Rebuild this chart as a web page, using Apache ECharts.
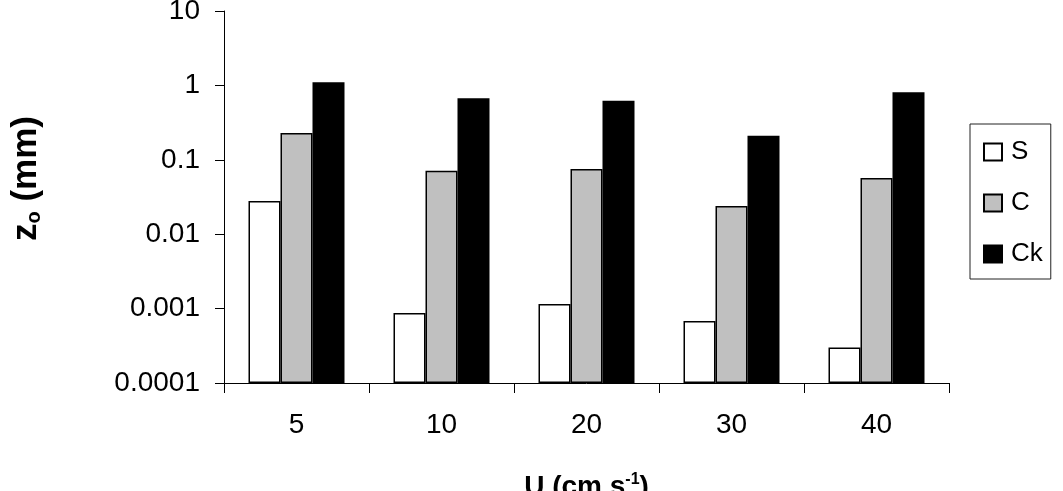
<!DOCTYPE html>
<html>
<head>
<meta charset="utf-8">
<script src="https://cdn.jsdelivr.net/npm/echarts@6/dist/echarts.min.js"></script>
<style>
  html, body { margin: 0; padding: 0; background: #fff; }
  #chart { width: 1063px; height: 491px; }
</style>
</head>
<body>
<div id="chart"></div>
<script>
// flow speeds U (cm s-1)
var categories = ["5", "10", "20", "30", "40"];
// roughness length z0 (mm), read off the log scale
var sData = [0.028, 0.00087, 0.00115, 0.00068, 0.0003];
var cData = [0.23, 0.071, 0.075, 0.024, 0.057];
var ckData = [1.1, 0.67, 0.62, 0.21, 0.81];
var yTickLabels = ["0.0001", "0.001", "0.01", "0.1", "1", "10"];

var font = "Liberation Sans, Arial, sans-serif";
var chart = echarts.init(document.getElementById("chart"));

var option = {
  backgroundColor: "#fff",
  animation: false,
  textStyle: { fontFamily: font },
  grid: { left: 224, right: 114, top: 11, bottom: 108, containLabel: false, outerBoundsMode: "none" },
  legend: {
    orient: "vertical",
    left: 970,
    top: 124,
    padding: [15, 8, 12, 13],
    borderColor: "#222",
    borderWidth: 1,
    itemWidth: 18,
    itemHeight: 17,
    itemGap: 25,
    icon: "rect",
    textStyle: { fontSize: 26, lineHeight: 24, color: "#000", fontFamily: font, padding: [0, 0, 0, 4] },
    data: ["S", "C", "Ck"]
  },
  xAxis: {
    type: "category",
    data: categories,
    name: "{a|U (cm s}{sup|-1}{a|)}",
    nameLocation: "middle",
    nameGap: 89,
    nameTextStyle: {
      rich: {
        a: { fontSize: 28, fontWeight: "bold", color: "#000", fontFamily: font },
        sup: { fontSize: 16, fontWeight: "bold", color: "#000", fontFamily: font, padding: [0, 0, 14, 0] }
      }
    },
    axisLine: { lineStyle: { color: "#000", width: 1 } },
    axisTick: { show: true, length: 10, lineStyle: { color: "#000" } },
    axisLabel: { color: "#000", fontSize: 28, margin: 28, fontFamily: font },
    splitLine: { show: false }
  },
  yAxis: {
    type: "log",
    logBase: 10,
    min: 0.0001,
    max: 10,
    startValue: 0.0001,
    name: "{a|z}{b|o}{a| (mm)}",
    nameLocation: "middle",
    nameRotate: 90,
    nameGap: 180,
    nameTextStyle: {
      padding: [0, 0, 0, 37],
      rich: {
        a: { fontSize: 35, fontWeight: "bold", color: "#000", fontFamily: font },
        b: { fontSize: 20, fontWeight: "bold", color: "#000", fontFamily: font, padding: [15, 0, 0, 0] }
      }
    },
    axisLine: { show: true, lineStyle: { color: "#000", width: 1 } },
    axisTick: { show: true, length: 9, lineStyle: { color: "#000" } },
    axisLabel: {
      color: "#000",
      fontSize: 28,
      margin: 24,
      fontFamily: font,
      formatter: function (v) {
        return yTickLabels[Math.round(Math.log10(v)) + 4];
      }
    },
    splitLine: { show: false },
    minorTick: { show: false }
  },
  series: [
    {
      name: "S",
      type: "bar",
      data: sData,
      barWidth: 32,
      barGap: "0%",
      itemStyle: { color: "#ffffff", borderColor: "#000", borderWidth: 1.5 }
    },
    {
      name: "C",
      type: "bar",
      data: cData,
      barWidth: 32,
      barGap: "0%",
      itemStyle: { color: "#c0c0c0", borderColor: "#000", borderWidth: 1.5 }
    },
    {
      name: "Ck",
      type: "bar",
      data: ckData,
      barWidth: 32,
      barGap: "0%",
      itemStyle: { color: "#000000", borderColor: "#000", borderWidth: 1.5 }
    }
  ]
};
chart.setOption(option);
</script>
</body>
</html>
